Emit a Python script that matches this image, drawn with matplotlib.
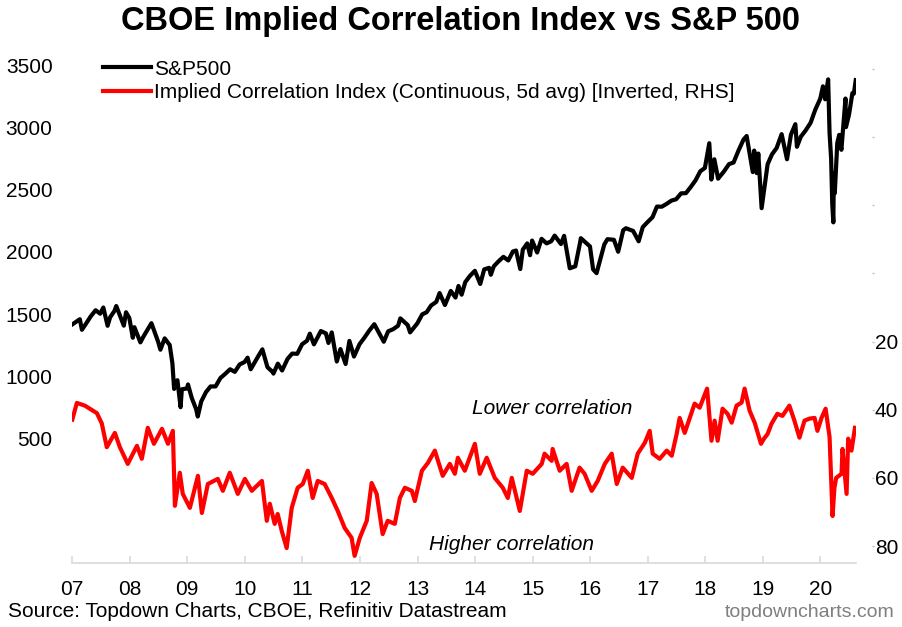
import pandas as pd
import matplotlib
matplotlib.use('Agg')
import matplotlib.pyplot as plt

plt.rcParams['font.family'] = ['Liberation Sans', 'DejaVu Sans']

# S&P 500 (left axis)
spx_dates = ['2007-01-03', '2007-02-20', '2007-03-05', '2007-03-30', '2007-04-30', '2007-05-31', '2007-06-29',
             '2007-07-19', '2007-08-15', '2007-08-31', '2007-09-28', '2007-10-09', '2007-11-26', '2007-12-10',
             '2007-12-31', '2008-01-22', '2008-02-01', '2008-03-10', '2008-03-31', '2008-05-19', '2008-06-30',
             '2008-07-15', '2008-08-11', '2008-09-12', '2008-09-29', '2008-10-10', '2008-10-31', '2008-11-20',
             '2008-11-28', '2008-12-31', '2009-01-06', '2009-01-30', '2009-02-27', '2009-03-09', '2009-03-31',
             '2009-04-30', '2009-05-29', '2009-06-30', '2009-07-31', '2009-08-31', '2009-09-30', '2009-10-30',
             '2009-11-30', '2009-12-31', '2010-01-19', '2010-02-08', '2010-03-31', '2010-04-23', '2010-05-25',
             '2010-06-30', '2010-07-02', '2010-07-30', '2010-08-26', '2010-09-30', '2010-10-29', '2010-11-30',
             '2010-12-31', '2011-01-31', '2011-02-18', '2011-03-16', '2011-04-29', '2011-05-31', '2011-06-16',
             '2011-07-07', '2011-08-08', '2011-08-31', '2011-10-03', '2011-10-27', '2011-11-25', '2011-12-30',
             '2012-01-31', '2012-02-29', '2012-04-02', '2012-06-01', '2012-06-29', '2012-07-31', '2012-08-31',
             '2012-09-14', '2012-10-31', '2012-11-15', '2012-12-31', '2013-01-31', '2013-02-28', '2013-03-28',
             '2013-04-30', '2013-05-21', '2013-06-24', '2013-07-31', '2013-08-30', '2013-09-18', '2013-10-08',
             '2013-10-31', '2013-11-29', '2013-12-31', '2014-02-03', '2014-02-28', '2014-03-31', '2014-04-11',
             '2014-04-30', '2014-05-30', '2014-06-30', '2014-07-31', '2014-08-29', '2014-09-18', '2014-10-15',
             '2014-10-31', '2014-11-28', '2014-12-16', '2014-12-29', '2015-01-30', '2015-02-27', '2015-03-31',
             '2015-04-30', '2015-05-21', '2015-06-30', '2015-07-20', '2015-08-25', '2015-09-29', '2015-10-30',
             '2015-11-03', '2015-12-31', '2016-01-20', '2016-02-11', '2016-03-31', '2016-04-20', '2016-05-31',
             '2016-06-27', '2016-07-29', '2016-08-15', '2016-09-30', '2016-11-04', '2016-11-30', '2016-12-30',
             '2017-01-31', '2017-02-28', '2017-03-31', '2017-04-28', '2017-05-31', '2017-06-30', '2017-07-31',
             '2017-08-31', '2017-09-29', '2017-10-31', '2017-11-30', '2017-12-29', '2018-01-26', '2018-02-08',
             '2018-02-27', '2018-03-23', '2018-04-30', '2018-05-31', '2018-06-29', '2018-07-31', '2018-08-31',
             '2018-09-20', '2018-10-29', '2018-11-07', '2018-11-23', '2018-12-03', '2018-12-24', '2019-01-31',
             '2019-02-28', '2019-03-29', '2019-04-30', '2019-06-03', '2019-06-28', '2019-07-26', '2019-08-05',
             '2019-08-30', '2019-09-30', '2019-10-31', '2019-11-29', '2019-12-31', '2020-01-17', '2020-01-31',
             '2020-02-19', '2020-02-28', '2020-03-09', '2020-03-16', '2020-03-23', '2020-03-26', '2020-04-01',
             '2020-04-17', '2020-04-29', '2020-05-13', '2020-06-08', '2020-06-11', '2020-06-30', '2020-07-22',
             '2020-07-31', '2020-08-12']
spx = [1417, 1459, 1374, 1421, 1482, 1531, 1503, 1553, 1406, 1474, 1527, 1565, 1407, 1515,
       1468, 1310, 1395, 1273, 1323, 1427, 1280, 1214, 1305, 1252, 1106, 899, 969, 752,
       896, 903, 935, 826, 735, 677, 798, 873, 919, 919, 987, 1021, 1057, 1036,
       1096, 1115, 1150, 1057, 1169, 1217, 1074, 1031, 1022, 1102, 1047, 1141, 1183, 1181,
       1258, 1286, 1343, 1257, 1364, 1345, 1268, 1353, 1119, 1219, 1099, 1285, 1159, 1258,
       1312, 1366, 1419, 1278, 1362, 1379, 1407, 1466, 1412, 1353, 1426, 1498, 1515, 1569,
       1598, 1669, 1573, 1686, 1633, 1726, 1656, 1757, 1806, 1848, 1742, 1859, 1872, 1816,
       1884, 1924, 1960, 1931, 2003, 2011, 1862, 2018, 2068, 1973, 2091, 1995, 2105, 2068,
       2086, 2131, 2063, 2129, 1868, 1884, 2079, 2110, 2044, 1859, 1829, 2060, 2102, 2097,
       2001, 2174, 2190, 2168, 2085, 2199, 2239, 2279, 2364, 2363, 2384, 2412, 2423, 2470,
       2472, 2519, 2575, 2648, 2674, 2873, 2581, 2744, 2588, 2648, 2705, 2718, 2816, 2902,
       2931, 2641, 2814, 2633, 2790, 2351, 2704, 2784, 2834, 2946, 2744, 2942, 3026, 2844,
       2926, 2977, 3038, 3141, 3231, 3330, 3226, 3386, 2954, 2747, 2386, 2237, 2630, 2471,
       2875, 2940, 2820, 3232, 3002, 3100, 3276, 3271, 3380]

# Implied correlation index, 5d avg (right axis, inverted)
corr_dates = ['2007-01-03', '2007-02-01', '2007-03-24', '2007-06-08', '2007-07-09', '2007-08-10', '2007-09-30',
              '2007-11-01', '2007-12-21', '2008-02-17', '2008-03-19', '2008-04-26', '2008-06-04', '2008-07-25',
              '2008-09-01', '2008-10-02', '2008-10-15', '2008-11-15', '2008-12-04', '2009-01-18', '2009-03-10',
              '2009-04-04', '2009-05-12', '2009-07-14', '2009-08-15', '2009-09-28', '2009-11-18', '2010-01-02',
              '2010-02-15', '2010-03-06', '2010-04-20', '2010-05-21', '2010-06-09', '2010-07-10', '2010-07-29',
              '2010-08-24', '2010-09-24', '2010-10-26', '2010-12-03', '2011-01-04', '2011-02-05', '2011-03-08',
              '2011-04-09', '2011-05-23', '2011-07-07', '2011-08-14', '2011-09-27', '2011-11-10', '2011-11-29',
              '2012-01-01', '2012-02-14', '2012-03-16', '2012-04-17', '2012-05-25', '2012-06-26', '2012-08-10',
              '2012-09-11', '2012-10-13', '2012-11-26', '2012-12-15', '2013-01-29', '2013-03-08', '2013-04-21',
              '2013-06-10', '2013-07-25', '2013-08-26', '2013-09-14', '2013-10-28', '2013-12-31', '2014-01-31',
              '2014-03-16', '2014-05-06', '2014-06-26', '2014-07-28', '2014-08-22', '2014-10-12', '2014-11-25',
              '2015-01-02', '2015-02-28', '2015-03-18', '2015-05-02', '2015-05-08', '2015-06-22', '2015-08-05',
              '2015-09-06', '2015-10-26', '2015-11-27', '2016-01-11', '2016-02-18', '2016-04-03', '2016-05-17',
              '2016-06-18', '2016-07-26', '2016-09-21', '2016-10-29', '2016-12-13', '2017-01-13', '2017-02-01',
              '2017-03-17', '2017-05-01', '2017-06-02', '2017-07-03', '2017-07-22', '2017-08-23', '2017-09-24',
              '2017-10-25', '2017-11-26', '2018-01-12', '2018-02-09', '2018-03-01', '2018-03-20', '2018-04-20',
              '2018-05-22', '2018-06-17', '2018-07-18', '2018-08-19', '2018-09-07', '2018-10-09', '2018-11-10',
              '2018-12-20', '2019-01-08', '2019-01-31', '2019-02-25', '2019-04-03', '2019-05-05', '2019-06-18',
              '2019-07-20', '2019-08-21', '2019-09-22', '2019-10-24', '2019-11-25', '2019-12-13', '2020-01-08',
              '2020-02-03', '2020-02-28', '2020-03-18', '2020-03-30', '2020-04-10', '2020-05-14', '2020-05-20',
              '2020-06-15', '2020-06-25', '2020-07-16', '2020-08-07']
corr = [42.9, 38.0, 38.8, 41.0, 44.0, 51.0, 46.8,
        51.0, 55.9, 50.6, 54.4, 45.3, 50.0, 45.6,
        50.0, 46.2, 68.2, 58.5, 64.7, 68.8, 59.4,
        70.3, 61.8, 60.3, 63.8, 58.5, 64.7, 60.3,
        63.8, 62.9, 60.9, 72.6, 67.6, 73.5, 70.6,
        75.6, 80.6, 68.8, 62.9, 61.8, 57.9, 65.9,
        60.9, 61.8, 65.9, 69.7, 74.7, 77.6, 82.9,
        77.6, 72.6, 61.5, 64.7, 76.5, 72.6, 73.5,
        65.9, 62.9, 63.8, 66.8, 57.9, 55.6, 52.0,
        59.4, 55.9, 58.8, 54.1, 57.9, 50.0, 58.8,
        54.1, 60.0, 62.9, 65.9, 60.0, 69.7, 57.9,
        58.8, 55.9, 52.9, 55.0, 51.5, 57.9, 55.9,
        63.8, 57.0, 58.8, 63.8, 60.9, 55.9, 52.9,
        61.8, 57.0, 60.0, 52.9, 49.7, 46.2, 52.9,
        54.4, 52.0, 53.5, 47.1, 42.4, 46.8, 42.4,
        38.2, 39.4, 33.8, 49.1, 43.2, 49.1, 39.7,
        41.2, 43.8, 38.8, 37.9, 33.8, 40.3, 43.8,
        50.0, 48.5, 47.1, 44.1, 41.2, 41.8, 38.8,
        43.2, 48.2, 43.2, 42.6, 42.4, 46.2, 42.4,
        39.7, 48.0, 71.2, 62.9, 60.0, 58.8, 51.5,
        64.7, 48.5, 52.0, 45.3]

year_ticks = [str(y) for y in range(2007, 2021)]
year_labels = [y[2:] for y in year_ticks]
left_ticks = [500, 1000, 1500, 2000, 2500, 3000, 3500]
right_ticks = [-60, -40, -20, 0, 20, 40, 60, 80]

fig = plt.figure(figsize=(9.03, 6.27), dpi=100)
ax = fig.add_axes([0.0797, 0.102, 0.8683, 0.802])
ax2 = ax.twinx()

l1, = ax.plot(pd.to_datetime(spx_dates), spx, color='black', lw=3, label='S&P500')
l2, = ax2.plot(pd.to_datetime(corr_dates), corr, color='#ff0000', lw=3,
               label='Implied Correlation Index (Continuous, 5d avg) [Inverted, RHS]')

ax.set_xlim(pd.Timestamp('2007-01-01'), pd.Timestamp('2020-08-14'))
ax.set_ylim(-500, 3540)
ax2.set_ylim(85, -62.6)

ax.set_xticks(pd.to_datetime(year_ticks))
ax.set_xticklabels(year_labels)
ax.set_yticks(left_ticks)
ax2.set_yticks(right_ticks)
ax2.set_yticklabels([str(t) if t > 0 else '' for t in right_ticks])

for a in (ax, ax2):
    for s in ('top', 'left', 'right'):
        a.spines[s].set_visible(False)
ax2.spines['bottom'].set_visible(False)
ax.spines['bottom'].set_color('#d9d9d9')
ax.spines['bottom'].set_linewidth(1.2)

ax.tick_params(axis='x', direction='in', length=5, width=1.2, color='#d9d9d9',
               labelsize=15, pad=12)
ax.tick_params(axis='y', length=0, labelsize=15, pad=14)
ax2.spines['right'].set_position(('outward', 11.5))
ax2.tick_params(axis='y', length=1.5, width=1, color='#bfbfbf', labelsize=15, pad=0.5)

ax.text(0.612, 0.308, 'Lower correlation', transform=ax.transAxes, fontsize=15,
        style='italic', ha='center', va='center')
ax.text(0.561, 0.036, 'Higher correlation', transform=ax.transAxes, fontsize=15,
        style='italic', ha='center', va='center')

fig.legend(handles=[l1, l2], loc='upper left', bbox_to_anchor=(0.114, 0.905),
           frameon=False, fontsize=15, borderpad=0, borderaxespad=0,
           handlelength=2.3, handletextpad=0.15, labelspacing=0.22)

fig.suptitle('CBOE Implied Correlation Index vs S&P 500', fontsize=23.5,
             fontweight='bold', x=0.51, y=0.99, va='top')
fig.text(0.009, 0.01, 'Source: Topdown Charts, CBOE, Refinitiv Datastream', fontsize=15,
         ha='left', va='bottom')
fig.text(0.991, 0.01, 'topdowncharts.com', fontsize=14, color='#7f7f7f',
         ha='right', va='bottom')

fig.savefig('out.png', dpi=100)
